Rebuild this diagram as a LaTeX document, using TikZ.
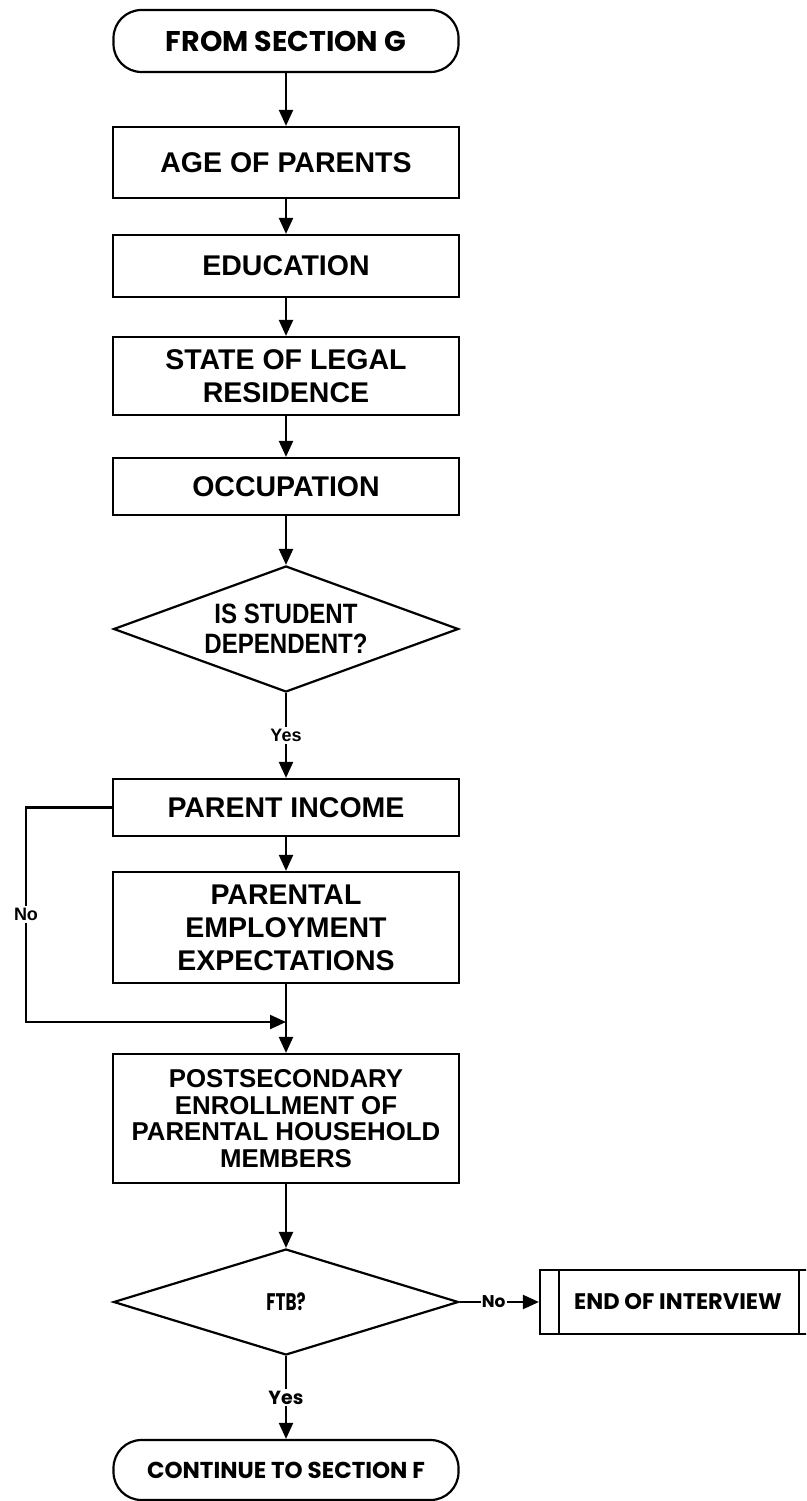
\documentclass[tikz,border=0pt]{standalone}
\usepackage{fontspec}
\setmainfont{Liberation Sans}
\newfontfamily\narrowsans{Liberation Sans}[FakeStretch=0.86]
\newfontfamily\geofont{Poppins}
\newfontfamily\geocond{Poppins}[FakeStretch=0.7]
\usetikzlibrary{arrows.meta,shapes.geometric}

\begin{document}
\begin{tikzpicture}[x=1pt,y=-1pt,
  line width=2.2pt,
  box/.style={draw, rectangle, minimum width=346pt, inner sep=0pt,
    align=center, font=\bfseries\fontsize{28.5}{33}\selectfont},
  smallbox/.style={box, font=\bfseries\fontsize{25.8}{26.7}\selectfont},
  term/.style={draw, rectangle, rounded corners=28pt, minimum width=345pt,
    inner sep=0pt, align=center, font=\geofont\bfseries\fontsize{28.5}{32}\selectfont},
  smallterm/.style={term, font=\geofont\bfseries\fontsize{23}{27}\selectfont},
  decision/.style={draw, diamond, aspect=2.74, inner sep=0pt,
    minimum width=345pt, align=center,
    font=\narrowsans\bfseries\fontsize{28}{30}\selectfont},
  geodecision/.style={decision, font=\geocond\bfseries\fontsize{24}{28}\selectfont},
  arr/.style={-{Triangle[length=16pt,width=14pt]}, line width=2.2pt},
  lbl/.style={fill=white, inner sep=2pt, font=\bfseries\fontsize{18}{20}\selectfont},
  geolbl/.style={fill=white, inner sep=2pt, font=\geofont\bfseries\fontsize{19}{21}\selectfont},
  rightlbl/.style={fill=white, inner sep=1pt, font=\geofont\bfseries\fontsize{17}{19}\selectfont}
]
\useasboundingbox (0,0) rectangle (806,1501);
\clip (0,0) rectangle (806,1501);

% main column
\node[term, minimum height=62pt]  (start) at (286,41)     {FROM SECTION G};
\node[box, minimum height=71pt]   (age)   at (286,162.5)  {AGE OF PARENTS};
\node[box, minimum height=62pt]   (edu)   at (286,266)    {EDUCATION};
\node[box, minimum height=78pt]   (state) at (286,376)    {STATE OF LEGAL\\RESIDENCE};
\node[box, minimum height=57pt]   (occ)   at (286,486.5)  {OCCUPATION};
\node[decision, minimum height=126pt] (dep) at (286,629)  {IS STUDENT\\DEPENDENT?};
\node[box, minimum height=57pt]   (pinc)  at (286,807.5)  {PARENT INCOME};
\node[box, minimum height=111pt]  (pee)   at (286,927.5)  {PARENTAL\\EMPLOYMENT\\EXPECTATIONS};
\node[smallbox, minimum height=129pt] (post) at (286,1118.5)
  {POSTSECONDARY\\ENROLLMENT OF\\PARENTAL HOUSEHOLD\\MEMBERS};
\node[geodecision, minimum height=106pt] (ftb) at (286,1302) {FTB?};
\node[smallterm, minimum height=60pt]  (cont)  at (286,1470)   {CONTINUE TO SECTION F};

% predefined-process box on the right
\node[draw, rectangle, minimum width=276pt, minimum height=64pt, inner sep=0pt,
  font=\geofont\bfseries\fontsize{22.5}{26}\selectfont] (endi) at (678,1302) {END OF INTERVIEW};
\draw ([xshift=20pt]endi.north west) -- ([xshift=20pt]endi.south west);
\draw ([xshift=-18pt]endi.north east) -- ([xshift=-18pt]endi.south east);

% helper points for the bypass loop
\coordinate (loopx) at (26,0);
\coordinate (merge) at (286,1022);

% connectors
\draw[arr] (start) -- (age);
\draw[arr] (age) -- (edu);
\draw[arr] (edu) -- (state);
\draw[arr] (state) -- (occ);
\draw[arr] (occ) -- (dep);
\draw[arr] (dep) -- node[lbl]{Yes} (pinc);
\draw[arr] (pinc) -- (pee);
\draw[arr] (pee) -- (post);
\draw[arr] (pinc.west) -- (pinc.west -| loopx) -- node[lbl]{No} (merge -| loopx) -- (merge);
\draw[arr] (post) -- (ftb);
\draw[arr] (ftb.east) -- node[rightlbl, pos=0.43]{No} (endi.west);
\draw[arr] (ftb) -- node[geolbl]{Yes} (cont);
\end{tikzpicture}
\end{document}
